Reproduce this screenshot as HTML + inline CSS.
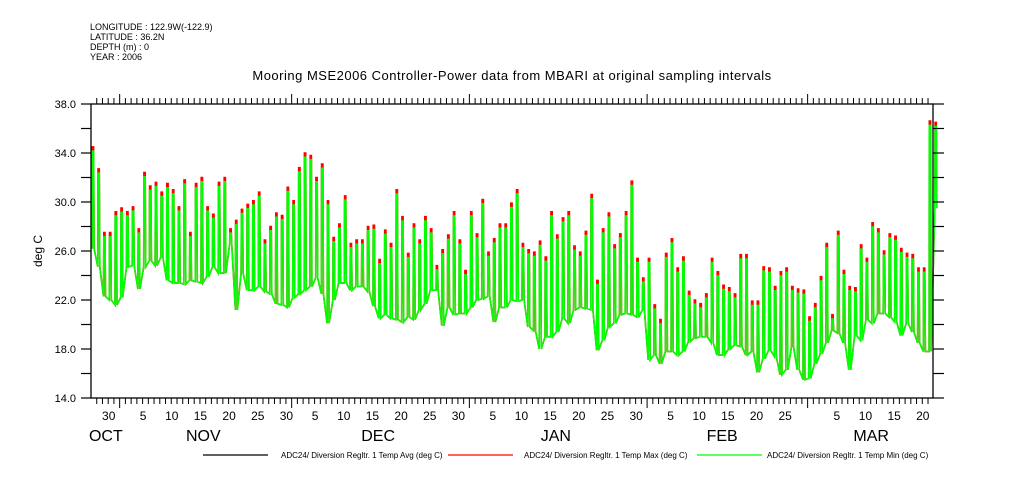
<!DOCTYPE html>
<html><head><meta charset="utf-8">
<style>
body{margin:0;background:#fff;}
svg{display:block;font-family:"Liberation Sans",sans-serif;}
</style></head>
<body>
<svg id="chart" width="1009" height="504" viewBox="0 0 1009 504" xmlns="http://www.w3.org/2000/svg">
<g font-size="9" fill="#000">
<text x="90" y="30">LONGITUDE : 122.9W(-122.9)</text>
<text x="90" y="40">LATITUDE : 36.2N</text>
<text x="90" y="50">DEPTH (m) : 0</text>
<text x="90" y="60">YEAR : 2006</text>
</g>
<text x="512" y="80" font-size="13" text-anchor="middle" letter-spacing="0.5">Mooring MSE2006 Controller-Power data from MBARI at original sampling intervals</text>
<text x="0" y="0" font-size="12" text-anchor="middle" transform="translate(42,251) rotate(-90)">deg C</text>
<g id="plot"></g>
<g id="axes"></g>
<g font-size="8">
<line x1="203" y1="455" x2="268" y2="455" stroke="#000" stroke-width="1.3"/>
<text x="281" y="458">ADC24/ Diversion Regltr. 1 Temp Avg (deg C)</text>
<line x1="448" y1="455" x2="513" y2="455" stroke="#f00" stroke-width="1.3"/>
<text x="524" y="458">ADC24/ Diversion Regltr. 1 Temp Max (deg C)</text>
<line x1="697" y1="455" x2="762" y2="455" stroke="#0f0" stroke-width="1.3"/>
<text x="767" y="458">ADC24/ Diversion Regltr. 1 Temp Min (deg C)</text>
</g>
</svg>
<script>
// Daily values starting Oct 27 (day index 0)
const dailyMax = [34.5,32.7,27.5,27.5,29.2,29.5,29.2,29.6,27.8,32.4,31.3,31.6,30.8,31.5,31.0,29.6,31.8,27.5,31.5,32.0,29.6,29.0,31.6,32.0,27.8,28.5,29.4,29.8,30.1,30.8,26.9,28.0,29.1,28.9,31.2,30.1,32.8,34.0,33.8,32.0,33.1,30.1,27.1,28.2,30.5,26.6,26.9,26.9,28.0,28.1,25.3,27.7,26.6,31.0,28.8,25.8,28.2,26.9,28.8,27.8,24.8,26.1,27.3,29.2,26.9,24.4,29.2,27.4,30.2,25.9,27.0,28.2,28.2,29.9,31.0,26.6,26.1,25.9,26.8,25.5,29.2,27.3,28.7,29.2,26.4,25.9,27.6,30.6,23.6,27.8,29.1,26.5,27.4,29.2,31.7,25.4,23.8,25.4,21.6,20.4,25.8,27.0,24.6,25.5,22.7,22.0,21.7,22.5,25.4,24.3,23.2,23.0,22.5,25.7,25.7,21.9,21.9,24.7,24.6,23.1,24.3,24.6,23.1,22.9,22.8,20.6,21.7,23.9,26.6,20.8,27.6,24.4,23.1,23.0,26.5,25.4,28.3,27.8,26.0,27.4,27.2,26.2,25.8,25.7,24.6,24.6,36.6,36.5];
const dailyMin = [26.2,24.7,22.3,22.0,21.6,22.2,24.7,24.8,22.9,24.7,25.2,24.8,25.5,23.6,23.4,23.4,23.3,23.6,23.5,23.4,23.9,24.7,24.2,24.2,26.6,21.2,24.2,22.8,22.8,23.1,22.7,22.5,21.7,21.6,21.4,22.2,22.5,22.8,23.1,23.8,22.5,20.1,22.0,23.4,23.4,22.8,23.1,23.1,22.7,21.5,20.5,20.8,20.5,20.4,20.2,20.6,20.4,21.2,21.7,22.8,22.8,19.9,21.4,20.8,20.9,20.9,21.4,22.0,22.1,22.3,20.2,21.4,21.4,22.0,21.9,22.0,19.8,19.5,18.0,19.0,19.0,19.4,20.5,20.1,21.2,21.4,21.3,21.2,17.9,18.7,19.8,20.1,20.8,20.9,20.8,20.6,21.2,17.1,17.5,16.8,17.8,17.8,17.5,17.8,18.6,18.9,19.0,19.0,18.5,17.5,17.5,18.0,18.3,18.2,17.5,17.8,16.1,17.2,17.9,17.4,15.9,16.3,18.2,16.3,15.5,15.6,16.8,17.6,18.5,19.5,19.3,18.5,16.3,19.1,18.7,20.4,20.1,20.9,20.9,20.6,20.2,19.1,20.1,19.4,18.5,17.8,17.8,29.5];
const yTicks = [38,34,30,26,22,18,14];
const dayLabels = [[3,"30"],[9,"5"],[14,"10"],[19,"15"],[24,"20"],[29,"25"],[34,"30"],[39,"5"],[44,"10"],[49,"15"],[54,"20"],[59,"25"],[64,"30"],[70,"5"],[75,"10"],[80,"15"],[85,"20"],[90,"25"],[95,"30"],[101,"5"],[106,"10"],[111,"15"],[116,"20"],[121,"25"],[130,"5"],[135,"10"],[140,"15"],[145,"20"]];
const monthLabels = [[2.5,"OCT"],[19.5,"NOV"],[50,"DEC"],[81,"JAN"],[110,"FEB"],[136,"MAR"]];
const monthStarts = [5,35,66,97,125];

const X0=91,X1=933,Y0=104,Y1=398;
const xs = d => 91 + d*5.733 + 0.5;
const ys = v => Y0 + (38 - v)*(Y1-Y0)/24;
const NS="http://www.w3.org/2000/svg";
const plot=document.getElementById('plot'), axes=document.getElementById('axes');
function mk(tag,attrs,parent){const e=document.createElementNS(NS,tag);for(const k in attrs)e.setAttribute(k,attrs[k]);parent.appendChild(e);return e;}

function series(highArr, lowArr, tip){
  const pts=[];
  for(let i=0;i<highArr.length;i++){
    const h=highArr[i]-tip;
    pts.push(xs(i+0.1).toFixed(1)+","+ys(lowArr[i]).toFixed(1));
    pts.push(xs(i+0.14).toFixed(1)+","+ys(h).toFixed(1));
    pts.push(xs(i+0.36).toFixed(1)+","+ys(h).toFixed(1));
    pts.push(xs(i+0.45).toFixed(1)+","+ys(lowArr[i]).toFixed(1));
  }
  return pts.join(" ");
}
const red=mk('polyline',{points:series(dailyMax,dailyMin,0),fill:'none',stroke:'#f00','stroke-width':1.6},plot);


const grn=mk('polyline',{points:series(dailyMax,dailyMin,0.35),fill:'none',stroke:'#0f0','stroke-width':1.6},plot);



const fr=mk('rect',{x:X0,y:Y0,width:X1-X0,height:Y1-Y0,fill:'none',stroke:'#000','stroke-width':1.3},axes);


for(let v=14;v<=38;v+=2){
  const y=ys(v);
  mk('line',{x1:81,y1:y,x2:X0,y2:y,stroke:'#000','stroke-width':1.2},axes);
  mk('line',{x1:X1,y1:y,x2:944,y2:y,stroke:'#000','stroke-width':1.2},axes);
}
yTicks.forEach(v=>{
  const t=mk('text',{x:76,y:ys(v)+4,'font-size':11,'text-anchor':'end'},axes);
  t.textContent=v.toFixed(1);
  
  
});
for(let d=1;d<=147;d++){
  const x=xs(d)-0.5;
  if(x>X1)break;
  const big=monthStarts.includes(d);
  mk('line',{x1:x,y1:Y1,x2:x,y2:Y1+(big?10:6),stroke:'#000','stroke-width':1},axes);
  mk('line',{x1:x,y1:Y0,x2:x,y2:Y0-(big?10:6),stroke:'#000','stroke-width':1},axes);
}
dayLabels.forEach(([d,s])=>{
  const t=mk('text',{x:xs(d),y:420,'font-size':12,'text-anchor':'middle'},axes);
  t.textContent=s;
  
  
});
monthLabels.forEach(([d,s])=>{
  const t=mk('text',{x:xs(d),y:441,'font-size':16,'text-anchor':'middle'},axes);
  t.textContent=s;
  
  
});
</script>
</body></html>
